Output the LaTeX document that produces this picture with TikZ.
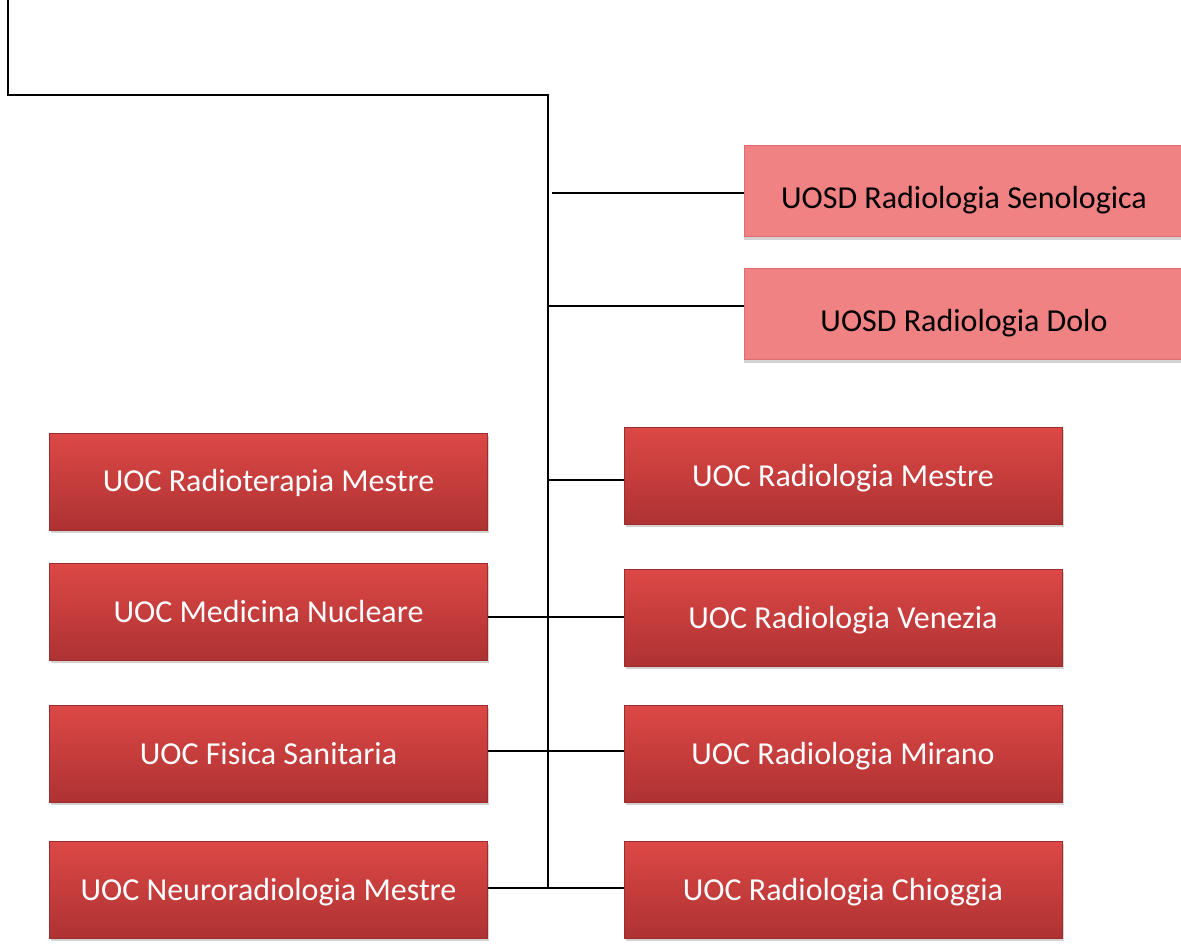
\documentclass[tikz,border=0pt]{standalone}
\usepackage{fontspec}
\setmainfont{Carlito}
\usetikzlibrary{shadows}
\definecolor{redtop}{RGB}{220,72,70}
\definecolor{redbot}{RGB}{174,50,50}
\definecolor{pinkfill}{RGB}{240,130,131}
\definecolor{pinkedge}{RGB}{222,110,110}
\tikzset{
  redbox/.style={rectangle, minimum width=438pt, minimum height=97pt, inner sep=0pt,
    top color=redtop, bottom color=redbot, draw=redbot!90!black, line width=0.6pt,
    text=white, font=\fontsize{32}{36}\selectfont, text height=20.6pt, text depth=0pt,
    drop shadow={opacity=0.35, shadow xshift=1.5pt, shadow yshift=-2.5pt}},
  pinkbox/.style={rectangle, minimum width=440pt, minimum height=91pt, inner sep=0pt,
    fill=pinkfill, draw=pinkedge, line width=0.6pt,
    text=black, font=\fontsize{32}{36}\selectfont, text height=35.6pt, text depth=0pt,
    drop shadow={opacity=0.35, shadow xshift=0pt, shadow yshift=-3pt}},
  conn/.style={draw=black, line width=2pt}
}
\begin{document}
\begin{tikzpicture}[x=1pt,y=-1pt]
\useasboundingbox (0,0) rectangle (1181,945);
\clip (0,0) rectangle (1181,945);
% nodes
\node[pinkbox] (sen) at (964,191) {UOSD Radiologia Senologica};
\node[pinkbox] (dolo) at (964,314) {UOSD Radiologia Dolo};
\node[redbox] (rtm) at (268.5,481.5) {UOC Radioterapia Mestre};
\node[redbox] (mn) at (268.5,612) {UOC Medicina Nucleare};
\node[redbox] (fs) at (268.5,754) {UOC Fisica Sanitaria};
\node[redbox] (nrm) at (268.5,890) {UOC Neuroradiologia Mestre};
\node[redbox] (rm) at (843,476) {UOC Radiologia Mestre};
\node[redbox] (rv) at (843,618) {UOC Radiologia Venezia};
\node[redbox] (rmi) at (843,754) {UOC Radiologia Mirano};
\node[redbox] (rc) at (843,890) {UOC Radiologia Chioggia};
% trunk
\coordinate (tl) at (8,-5);
\coordinate (bend) at (548,95);
\coordinate (bot) at (548,888);
\coordinate (senj) at (552,193);
\coordinate (doloj) at (548,306);
\coordinate (rmj) at (548,480);
\coordinate (mnj) at (548,617);
\coordinate (fsj) at (548,751);
\coordinate (nrmj) at (548,888);
\draw[conn] (tl) |- (bend) -- (bot);
% connectors
\draw[conn] (senj) -- (sen.west |- senj);
\draw[conn] (doloj) -- (dolo.west |- doloj);
\draw[conn] (rmj) -- (rm.west |- rmj);
\draw[conn] (mn.east |- mnj) -- (rv.west |- mnj);
\draw[conn] (fs.east |- fsj) -- (rmi.west |- fsj);
\draw[conn] (nrm.east |- nrmj) -- (rc.west |- nrmj);
\end{tikzpicture}
\end{document}
